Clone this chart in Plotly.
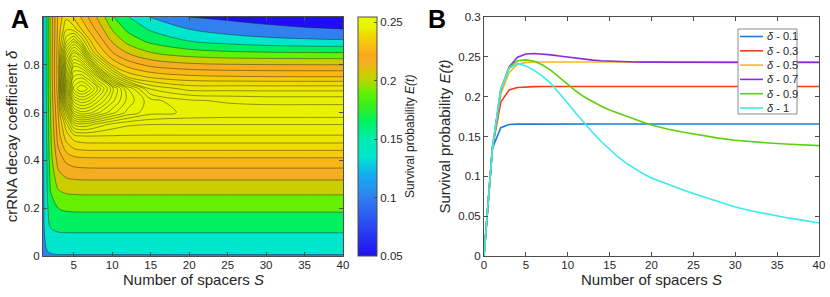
import numpy as np
import plotly.graph_objects as go

# ---------------- Panel B data ----------------
S_B = [0, 1, 2, 3, 4, 5, 6, 7, 8, 9, 10, 11, 12, 13, 14, 15, 16, 17, 18, 19, 20,
       22, 24, 26, 28, 30, 32, 34, 36, 38, 40]
E_B_d01 = [0, 0.135, 0.161, 0.165, 0.1655, 0.1656, 0.1656, 0.1656, 0.1656, 0.1656, 0.1656,
           0.1656, 0.1656, 0.1656, 0.1656, 0.1656, 0.1656, 0.1656, 0.1656, 0.1656, 0.1656,
           0.1656, 0.1656, 0.1656, 0.1656, 0.1656, 0.1656, 0.1656, 0.1656, 0.1656, 0.1656]
E_B_d03 = [0, 0.135, 0.193, 0.2085, 0.2115, 0.2123, 0.2126, 0.2127, 0.2127, 0.2127, 0.2127,
           0.2127, 0.2127, 0.2127, 0.2127, 0.2127, 0.2127, 0.2127, 0.2127, 0.2127, 0.2127,
           0.2127, 0.2127, 0.2127, 0.2127, 0.2127, 0.2127, 0.2127, 0.2127, 0.2127, 0.2127]
E_B_d05 = [0, 0.135, 0.203, 0.2305, 0.2405, 0.2430, 0.2435, 0.2436, 0.2436, 0.2436, 0.2436,
           0.2436, 0.2436, 0.2436, 0.2436, 0.2436, 0.2436, 0.2436, 0.2436, 0.2436, 0.2436,
           0.2436, 0.2436, 0.2436, 0.2436, 0.2436, 0.2436, 0.2436, 0.2436, 0.2436, 0.2436]
E_B_d07 = [0, 0.135, 0.208, 0.2375, 0.2495, 0.2535, 0.2541, 0.2536, 0.2525, 0.2511, 0.2497,
           0.2483, 0.2470, 0.2459, 0.2451, 0.2445, 0.2440, 0.2437, 0.2435, 0.2433, 0.2432,
           0.2431, 0.2431, 0.2431, 0.2431, 0.2431, 0.2431, 0.2431, 0.2431, 0.2431, 0.2431]
E_B_d09 = [0, 0.135, 0.209, 0.2365, 0.2450, 0.2462, 0.2445, 0.2398, 0.2330, 0.2245, 0.2152,
           0.2068, 0.1995, 0.1933, 0.1880, 0.1833, 0.1792, 0.1752, 0.1714, 0.1678, 0.1645,
           0.1592, 0.1550, 0.1512, 0.1480, 0.1452, 0.1433, 0.1418, 0.1405, 0.1394, 0.1385]
E_B_d10 = [0, 0.135, 0.209, 0.2355, 0.2415, 0.2385, 0.2330, 0.2255, 0.2165, 0.2045, 0.1918,
           0.1790, 0.1665, 0.1547, 0.1437, 0.1335, 0.1243, 0.1162, 0.1092, 0.1032, 0.0980,
           0.0895, 0.0820, 0.0750, 0.0680, 0.0615, 0.0565, 0.0522, 0.0484, 0.0450, 0.0415]
B_names = ["0.1", "0.3", "0.5", "0.7", "0.9", "1"]
B_colors = ["#1a7be0", "#f5391c", "#ffb71c", "#8a2be2", "#5dd00c", "#38ecec"]

# ---------------- Panel A data ----------------
S_A = [1, 1.5, 2, 3, 4, 5, 6, 7, 8, 10, 12, 15, 20, 25, 30, 35, 40]
delta_A = [0, 0.02, 0.1, 0.2, 0.3, 0.4, 0.5, 0.55, 0.6, 0.65, 0.7, 0.75, 0.8, 0.85, 0.9, 0.95, 1.0]
E_A_d000 = [0.120, 0.125, 0.128, 0.130, 0.130, 0.130, 0.130, 0.130, 0.130, 0.130, 0.130, 0.130, 0.130, 0.130, 0.130, 0.130, 0.130]
E_A_d002 = [0.124, 0.134, 0.140, 0.144, 0.1448, 0.145, 0.145, 0.145, 0.145, 0.145, 0.145, 0.145, 0.145, 0.145, 0.145, 0.145, 0.145]
E_A_d010 = [0.125, 0.150, 0.161, 0.165, 0.1655, 0.1656, 0.1656, 0.1656, 0.1656, 0.1656, 0.1656, 0.1656, 0.1656, 0.1656, 0.1656, 0.1656, 0.1656]
E_A_d020 = [0.125, 0.158, 0.180, 0.190, 0.1922, 0.1927, 0.1929, 0.1929, 0.1929, 0.1929, 0.1929, 0.1929, 0.1929, 0.1929, 0.1929, 0.1929, 0.1929]
E_A_d030 = [0.125, 0.163, 0.193, 0.2085, 0.2115, 0.2123, 0.2126, 0.2127, 0.2127, 0.2127, 0.2127, 0.2127, 0.2127, 0.2127, 0.2127, 0.2127, 0.2127]
E_A_d040 = [0.125, 0.165, 0.199, 0.2215, 0.2283, 0.2305, 0.2312, 0.2314, 0.2315, 0.2315, 0.2315, 0.2315, 0.2315, 0.2315, 0.2315, 0.2315, 0.2315]
E_A_d050 = [0.125, 0.168, 0.203, 0.2305, 0.2405, 0.2430, 0.2435, 0.2436, 0.2436, 0.2436, 0.2436, 0.2436, 0.2436, 0.2436, 0.2436, 0.2436, 0.2436]
E_A_d055 = [0.125, 0.168, 0.2045, 0.2325, 0.2430, 0.2458, 0.2462, 0.2460, 0.2456, 0.2450, 0.2447, 0.2446, 0.2446, 0.2446, 0.2446, 0.2446, 0.2446]
E_A_d060 = [0.125, 0.169, 0.2055, 0.2345, 0.2455, 0.2490, 0.2498, 0.2496, 0.2490, 0.2478, 0.2468, 0.2460, 0.2457, 0.2456, 0.2456, 0.2456, 0.2456]
E_A_d065 = [0.125, 0.170, 0.207, 0.236, 0.2478, 0.2515, 0.2522, 0.2518, 0.2509, 0.2490, 0.2474, 0.2460, 0.2453, 0.2451, 0.2450, 0.2450, 0.2450]
E_A_d070 = [0.125, 0.171, 0.208, 0.2375, 0.2495, 0.2535, 0.2541, 0.2536, 0.2525, 0.2497, 0.2470, 0.2445, 0.2432, 0.2432, 0.2432, 0.2432, 0.2432]
E_A_d075 = [0.125, 0.171, 0.2083, 0.2375, 0.2490, 0.2525, 0.2528, 0.2518, 0.2500, 0.2455, 0.2415, 0.2378, 0.2352, 0.2344, 0.2341, 0.2340, 0.2340]
E_A_d080 = [0.125, 0.171, 0.2085, 0.2375, 0.2482, 0.2510, 0.2505, 0.2485, 0.2455, 0.2380, 0.2310, 0.2240, 0.2193, 0.2178, 0.2173, 0.2171, 0.2170]
E_A_d085 = [0.125, 0.171, 0.2088, 0.2372, 0.2468, 0.2488, 0.2475, 0.2443, 0.2395, 0.2275, 0.2165, 0.2055, 0.1965, 0.1930, 0.1915, 0.1908, 0.1905]
E_A_d090 = [0.125, 0.171, 0.209, 0.2365, 0.2450, 0.2462, 0.2445, 0.2398, 0.2330, 0.2152, 0.1995, 0.1833, 0.1645, 0.1530, 0.1452, 0.1411, 0.1385]
E_A_d095 = [0.125, 0.171, 0.209, 0.2360, 0.2435, 0.2428, 0.2388, 0.2322, 0.2245, 0.2035, 0.1840, 0.1605, 0.1340, 0.1180, 0.1085, 0.1030, 0.1000]
E_A_d100 = [0.125, 0.171, 0.209, 0.2355, 0.2415, 0.2385, 0.2330, 0.2255, 0.2165, 0.1918, 0.1665, 0.1335, 0.0980, 0.0786, 0.0615, 0.0503, 0.0415]

# contour levels (non-uniform, as in the picture)
levels = [0.10, 0.135, 0.165, 0.19, 0.205, 0.217, 0.227, 0.234, 0.239, 0.2422, 0.2438,
          0.2446, 0.2452, 0.2458, 0.2464, 0.2470, 0.2476, 0.2482, 0.2488, 0.2494, 0.2500,
          0.2506, 0.2512, 0.2518, 0.2524, 0.2530, 0.2534, 0.2537, 0.2539]

cbar_min, cbar_max = 0.05, 0.2546
cbar_ticks = [0.05, 0.1, 0.15, 0.2, 0.25]
cbar_ticktext = ["0.05", "0.1", "0.15", "0.2", "0.25"]

# colormap anchors (value -> colour)
cmap_vals = [0.05, 0.075, 0.10, 0.12, 0.135, 0.15, 0.165, 0.18, 0.19, 0.20, 0.207,
             0.215, 0.222, 0.23, 0.24, 0.245, 0.2546]
cmap_cols = ["#1f0ff0", "#2a45f2", "#3080f0", "#14aef0", "#00e6cc", "#00ecb0", "#00f060",
             "#3cf018", "#64f000", "#b4d800", "#d4c800", "#f4b020", "#f8a820", "#f8c010",
             "#f0dc00", "#e8f200", "#e8fa00"]


def hex2rgb(h):
    h = h.lstrip("#")
    return [int(h[i:i + 2], 16) for i in (0, 2, 4)]


_rgb = np.array([hex2rgb(c) for c in cmap_cols], dtype=float)


def cmap(v):
    r = [np.interp(v, cmap_vals, _rgb[:, k]) for k in range(3)]
    return "rgb(%d,%d,%d)" % tuple(int(round(x)) for x in r)


# colourbar scale (linear in E)
cbar_scale = [[(v - cbar_min) / (cbar_max - cbar_min), c] for v, c in zip(cmap_vals, cmap_cols)]
cbar_scale[0][0] = 0.0
cbar_scale[-1][0] = 1.0

# transform E to level index so that plotly's uniform contours hit the non-uniform levels
Z = np.array([E_A_d000, E_A_d002, E_A_d010, E_A_d020, E_A_d030, E_A_d040, E_A_d050,
              E_A_d055, E_A_d060, E_A_d065, E_A_d070, E_A_d075, E_A_d080, E_A_d085,
              E_A_d090, E_A_d095, E_A_d100])
n = len(levels)
xp = np.concatenate([[0.0], levels, [0.3]])
fp = np.concatenate([[-1.0], np.arange(n, dtype=float), [float(n)]])
Zt = np.interp(Z, xp, fp)

band_cols = [cmap(cbar_min)] + [cmap(l) for l in levels]
fill_scale = []
for b, c in enumerate(band_cols):
    lo = max(0.0, (b - 0.5) / n)
    hi = min(1.0, (b + 0.5) / n)
    fill_scale.append([lo, c])
    fill_scale.append([hi, c])

W, H = 830, 297
FONT = "Liberation Sans, Arial, Helvetica, sans-serif"
AX = "#4d4d4d"
TXT = "#262626"

fig = go.Figure()

fig.add_trace(go.Contour(
    x=S_A, y=delta_A, z=Zt,
    autocontour=False,
    contours=dict(start=0, end=n - 1, size=1, coloring="fill"),
    colorscale=fill_scale, showscale=False,
    line=dict(color="rgba(25,25,25,0.8)", width=0.55, smoothing=1),
    hoverinfo="skip", xaxis="x", yaxis="y"))

# dummy trace carrying the (linear) colour bar
fig.add_trace(go.Scatter(
    x=[20], y=[0.5], mode="markers", xaxis="x", yaxis="y",
    marker=dict(size=1, opacity=0, color=[0.15], cmin=cbar_min, cmax=cbar_max,
                colorscale=cbar_scale, showscale=True,
                colorbar=dict(x=358 / W, xanchor="left", xpad=0, ypad=0,
                              y=41 / H, yanchor="bottom", len=239 / H, lenmode="fraction",
                              thickness=19, thicknessmode="pixels",
                              outlinewidth=1, outlinecolor=AX,
                              tickvals=cbar_ticks, ticktext=cbar_ticktext,
                              ticks="inside", ticklen=3, tickcolor=AX,
                              tickfont=dict(size=11.5, color=TXT, family=FONT))),
    hoverinfo="skip", showlegend=False))

B_series = [E_B_d01, E_B_d03, E_B_d05, E_B_d07, E_B_d09, E_B_d10]
for name, col, ys in zip(B_names, B_colors, B_series):
    fig.add_trace(go.Scatter(x=S_B, y=ys, mode="lines", name="δ - " + name,
                             line=dict(color=col, width=1.6),
                             xaxis="x2", yaxis="y2", showlegend=False))

ydom = [41 / H, 280 / H]
common = dict(showline=True, linecolor=AX, linewidth=1, mirror="ticks", ticks="inside",
              ticklen=4, tickcolor=AX, showgrid=False, zeroline=False,
              tickfont=dict(size=11.5, color=TXT, family=FONT), automargin=False,
              ticklabeloverflow="allow")

fig.update_layout(
    width=W, height=H, margin=dict(l=0, r=0, t=0, b=0),
    paper_bgcolor="white", plot_bgcolor="white",
    font=dict(family=FONT, size=12, color=TXT), showlegend=False,
    xaxis=dict(domain=[43 / W, 343 / W], range=[1, 40], anchor="y",
               tickvals=[5, 10, 15, 20, 25, 30, 35, 40], ticklabelstandoff=-2, **common),
    yaxis=dict(domain=ydom, range=[0, 1], anchor="x",
               tickvals=[0, 0.2, 0.4, 0.6, 0.8], ticktext=["0", "0.2", "0.4", "0.6", "0.8"],
               title=dict(text="crRNA decay coefficient <i>δ</i>", font=dict(size=15, color=TXT), standoff=2),
               **common),
    xaxis2=dict(domain=[484 / W, 819 / W], range=[0, 40], anchor="y2",
                tickvals=[0, 5, 10, 15, 20, 25, 30, 35, 40], ticklabelstandoff=-2, **common),
    yaxis2=dict(domain=ydom, range=[0, 0.3], anchor="x2",
                tickvals=[0, 0.05, 0.1, 0.15, 0.2, 0.25, 0.3],
                ticktext=["0", "0.05", "0.1", "0.15", "0.2", "0.25", "0.3"],
                title=dict(text="Survival probability <i>E(t)</i>", font=dict(size=15, color=TXT), standoff=4),
                **common),
)

annotations = [
    dict(text="<b>A</b>", x=9 / W, y=1 - 3 / H, xref="paper", yref="paper",
         xanchor="left", yanchor="top", showarrow=False, font=dict(size=25, color="black", family=FONT)),
    dict(text="<b>B</b>", x=426 / W, y=1 - 3 / H, xref="paper", yref="paper",
         xanchor="left", yanchor="top", showarrow=False, font=dict(size=25, color="black", family=FONT)),
    dict(text="Survival probability <i>E(t)</i>", x=410 / W, y=1 - 137 / H, xref="paper", yref="paper",
         xanchor="center", yanchor="middle", textangle=-90, showarrow=False,
         font=dict(size=12, color=TXT, family=FONT)),
    # x-axis titles
    dict(text="Number of spacers <i>S</i>", x=(43 + 343) / 2 / W, y=1 - 279 / H,
         xref="paper", yref="paper", xanchor="center", yanchor="middle", showarrow=False,
         font=dict(size=15, color=TXT, family=FONT)),
    dict(text="Number of spacers <i>S</i>", x=(484 + 819) / 2 / W, y=1 - 279 / H,
         xref="paper", yref="paper", xanchor="center", yanchor="middle", showarrow=False,
         font=dict(size=15, color=TXT, family=FONT)),
]

# manual legend for panel B
shapes = [dict(type="rect", xref="paper", yref="paper", x0=738 / W, x1=797 / W,
               y0=1 - 114 / H, y1=1 - 29 / H, fillcolor="white",
               line=dict(color="#8c8c8c", width=1), layer="above")]
for i, (name, col) in enumerate(zip(B_names, B_colors)):
    yy = 1 - (36.5 + i * 14.3) / H
    shapes.append(dict(type="line", xref="paper", yref="paper", x0=740 / W, x1=763 / W,
                       y0=yy, y1=yy, line=dict(color=col, width=1.6), layer="above"))
    annotations.append(dict(text="<i>δ</i> - " + name, x=765 / W, y=yy, xref="paper", yref="paper",
                            xanchor="left", yanchor="middle", showarrow=False,
                            font=dict(size=11, color=TXT, family=FONT)))

fig.update_layout(annotations=annotations, shapes=shapes)
fig.write_html("out.html", config={"displayModeBar": False},
               post_script="document.body.style.margin='0';document.body.style.overflow='hidden';")
